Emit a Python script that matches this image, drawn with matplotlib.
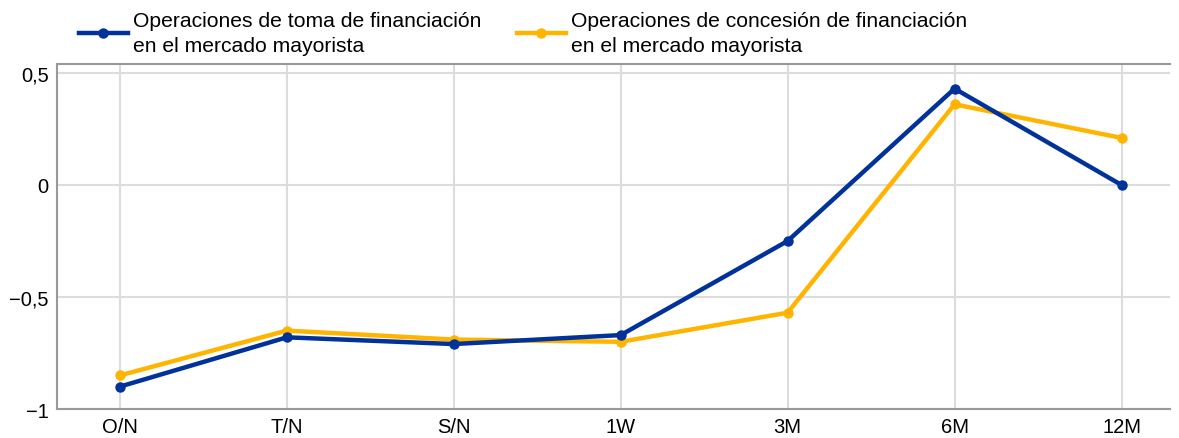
import numpy as np
import matplotlib.pyplot as plt

plt.rcParams['font.family'] = ['Liberation Sans', 'DejaVu Sans']

# data
plazos = ['O/N', 'T/N', 'S/N', '1W', '3M', '6M', '12M']
toma = [-0.90, -0.68, -0.71, -0.67, -0.25, 0.43, 0.00]
concesion = [-0.85, -0.65, -0.69, -0.70, -0.57, 0.36, 0.21]
yticks = [-1, -0.5, 0, 0.5]
ytick_labels = ['\u22121', '\u22120,5', '0', '0,5']
series_names = ['Operaciones de toma de financiación\nen el mercado mayorista',
                'Operaciones de concesión de financiación\nen el mercado mayorista']

blue = '#003299'
yellow = '#ffb400'

fig = plt.figure(figsize=(11.79, 4.39), dpi=100)
ax = fig.add_axes([0.0483, 0.066, 0.944, 0.786])

x = np.arange(len(plazos))
ax.plot(x, toma, color=blue, lw=3.2, marker='o', ms=6.5, label=series_names[0], zorder=3)
ax.plot(x, concesion, color=yellow, lw=3.2, marker='o', ms=6.5, label=series_names[1], zorder=2)

ax.set_xlim(-0.377, 6.29)
ax.set_ylim(-1, 0.54)
ax.set_xticks(x)
ax.set_xticklabels(plazos, fontsize=14.5)
ax.set_yticks(yticks)
ax.set_yticklabels(ytick_labels, fontsize=14.5)
ax.tick_params(length=0, pad=6)
ax.grid(True, color='#dcdcdc', lw=1.5)
ax.set_axisbelow(True)
for s in ['left', 'bottom', 'top']:
    ax.spines[s].set_color('#999999')
    ax.spines[s].set_linewidth(1.5)
ax.spines['right'].set_visible(False)

leg = fig.legend(loc='upper left', bbox_to_anchor=(0.0509, 1.015), ncol=2, frameon=False,
                 fontsize=15.2, handlelength=2.3, handletextpad=0.25, columnspacing=1.7,
                 labelspacing=0.2)
for t in leg.get_texts():
    t.set_linespacing(1.35)

fig.savefig('out.png', dpi=100)
